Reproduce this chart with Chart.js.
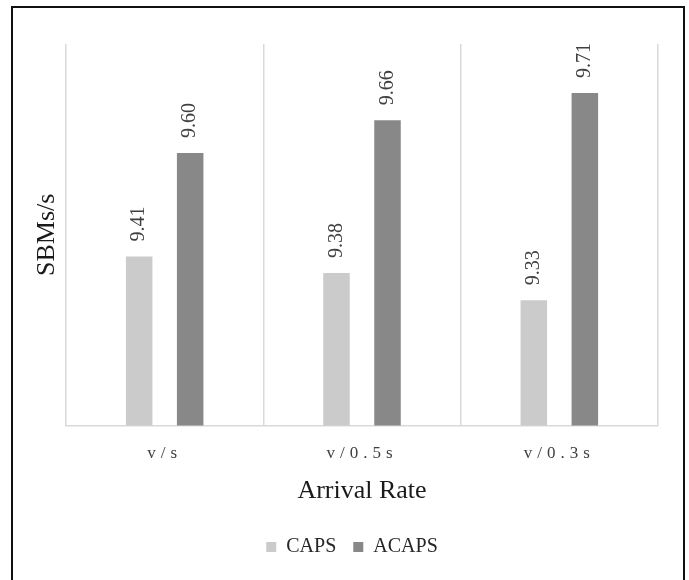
<!DOCTYPE html>
<html>
<head>
<meta charset="utf-8">
<script src="https://cdn.jsdelivr.net/npm/chart.js@4.4.1/dist/chart.umd.min.js"></script>
<style>
  html, body { margin: 0; padding: 0; background: #ffffff; overflow: hidden; }
  #wrap { position: relative; width: 689px; height: 580px; }
  #frame { position: absolute; left: 11px; top: 6px; width: 670px; height: 600px; border: 2px solid #111111; pointer-events: none; }
  canvas { position: absolute; left: 0; top: 0; }
</style>
</head>
<body>
<div id="wrap">
  <canvas id="chart" width="689" height="580"></canvas>
  <div id="frame"></div>
</div>
<script>
// Throughput per arrival rate for the two schedulers
const categories = ['v/s', 'v/0.5s', 'v/0.3s'];
const capsValues = [9.41, 9.38, 9.33];
const acapsValues = [9.60, 9.66, 9.71];
const seriesNames = ['CAPS', 'ACAPS'];
const yRange = [9.1, 9.8];

const SERIF = '"Liberation Serif", "Times New Roman", serif';

// Vertical value labels above each bar
const barValueLabels = {
  id: 'barValueLabels',
  afterDatasetsDraw(chart) {
    const ctx = chart.ctx;
    ctx.save();
    ctx.font = '20px ' + SERIF;
    ctx.fillStyle = '#404040';
    ctx.textAlign = 'left';
    ctx.textBaseline = 'middle';
    chart.data.datasets.forEach((ds, i) => {
      chart.getDatasetMeta(i).data.forEach((bar, j) => {
        ctx.save();
        ctx.translate(bar.x, bar.y - 15);
        ctx.rotate(-Math.PI / 2);
        ctx.fillText(ds.data[j].toFixed(2), 0, 0);
        ctx.restore();
      });
    });
    ctx.restore();
  }
};

// Wider letter spacing for the category labels
const spacedTicks = {
  id: 'spacedTicks',
  beforeDraw(chart) {
    const scale = chart.scales.x;
    if (scale && !scale._spaced) {
      const draw = scale.drawLabels;
      scale.drawLabels = function (area) {
        const ctx = this.ctx;
        const prev = ctx.letterSpacing;
        ctx.letterSpacing = '5px';
        draw.call(this, area);
        ctx.letterSpacing = prev || '0px';
      };
      scale._spaced = true;
    }
  }
};

new Chart(document.getElementById('chart'), {
  type: 'bar',
  data: {
    labels: categories,
    datasets: [
      {
        label: seriesNames[0],
        data: capsValues,
        backgroundColor: '#cbcbcb',
        categoryPercentage: 0.517,
        barPercentage: 0.52
      },
      {
        label: seriesNames[1],
        data: acapsValues,
        backgroundColor: '#888888',
        categoryPercentage: 0.517,
        barPercentage: 0.52
      }
    ]
  },
  options: {
    responsive: false,
    animation: false,
    devicePixelRatio: 1,
    layout: { padding: { top: 44, left: 15, right: 0, bottom: 13 } },
    plugins: {
      tooltip: { enabled: false },
      legend: {
        position: 'bottom',
        labels: {
          boxWidth: 10,
          boxHeight: 10,
          padding: 17,
          color: '#262626',
          font: { family: SERIF, size: 20 }
        }
      }
    },
    scales: {
      x: {
        grid: { display: true, drawTicks: false, color: '#d9d9d9', lineWidth: 1.5, offset: true },
        border: { display: true, color: '#d9d9d9', width: 1.5 },
        ticks: { color: '#404040', padding: 18, font: { family: SERIF, size: 17 } },
        title: {
          display: true,
          text: 'Arrival Rate',
          color: '#1a1a1a',
          font: { family: SERIF, size: 26 },
          padding: { top: 0, bottom: 13 }
        },
        afterFit(s) { s.height = 94.5; }
      },
      y: {
        min: yRange[0],
        max: yRange[1],
        ticks: { display: false },
        grid: { display: false },
        border: { display: false },
        title: {
          display: true,
          text: 'SBMs/s',
          color: '#1a1a1a',
          font: { family: SERIF, size: 26 },
          padding: { top: 17, bottom: 0 }
        },
        afterFit(s) { s.width = 51; }
      },
      yRight: {
        position: 'right',
        display: true,
        ticks: { display: false },
        grid: { display: false },
        border: { display: false },
        afterFit(s) { s.width = 31; }
      }
    }
  },
  plugins: [spacedTicks, barValueLabels]
});
</script>
</body>
</html>
